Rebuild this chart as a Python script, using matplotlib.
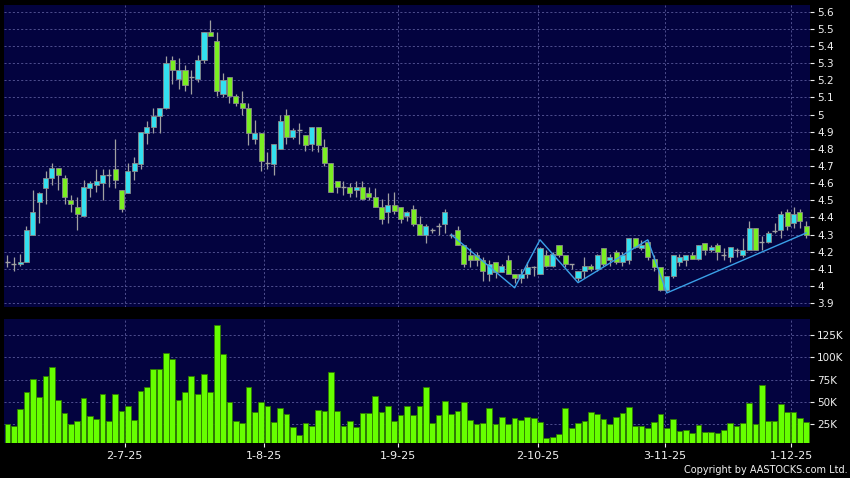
import numpy as np
import matplotlib
matplotlib.use("Agg")
import matplotlib.pyplot as plt

# ========================================================================
# part one, data (one candle per trading day)

opens = [4.14, 4.13, 4.13, 4.14, 4.30, 4.49, 4.57, 4.63, 4.69, 4.63,
	4.50, 4.46, 4.41, 4.57, 4.59, 4.60, 4.65, 4.68, 4.56, 4.54,
	4.67, 4.71, 4.89, 4.93, 4.99, 5.04, 5.32, 5.21, 5.26, 5.22,
	5.21, 5.32, 5.48, 5.43, 5.12, 5.22, 5.11, 5.07, 5.04, 4.86,
	4.89, 4.72, 4.71, 4.80, 5.00, 4.87, 4.91, 4.88, 4.83, 4.93,
	4.81, 4.72, 4.61, 4.58, 4.58, 4.56, 4.58, 4.54, 4.52, 4.46,
	4.43, 4.47, 4.46, 4.41, 4.45, 4.36, 4.30, 4.33, 4.35, 4.36,
	4.30, 4.33, 4.24, 4.18, 4.18, 4.15, 4.07, 4.14, 4.08, 4.15,
	4.07, 4.05, 4.07, 4.11, 4.07, 4.18, 4.12, 4.24, 4.18, 4.13,
	4.05, 4.09, 4.12, 4.10, 4.22, 4.15, 4.20, 4.14, 4.15, 4.28,
	4.22, 4.26, 4.16, 4.11, 3.98, 4.06, 4.14, 4.15, 4.18, 4.16,
	4.25, 4.21, 4.24, 4.18, 4.17, 4.21, 4.18, 4.21, 4.34, 4.26,
	4.26, 4.32, 4.33, 4.43, 4.37, 4.43, 4.35]
highs = [4.18, 4.17, 4.19, 4.35, 4.56, 4.55, 4.67, 4.72, 4.69, 4.65,
	4.53, 4.52, 4.62, 4.61, 4.68, 4.68, 4.68, 4.86, 4.56, 4.72,
	4.75, 4.90, 4.96, 5.04, 5.04, 5.34, 5.34, 5.33, 5.29, 5.26,
	5.35, 5.48, 5.55, 5.48, 5.24, 5.22, 5.12, 5.14, 5.07, 4.97,
	4.89, 4.78, 4.83, 5.00, 5.03, 4.92, 4.95, 4.88, 4.93, 4.93,
	4.86, 4.72, 4.61, 4.61, 4.60, 4.61, 4.61, 4.58, 4.57, 4.51,
	4.54, 4.55, 4.46, 4.44, 4.47, 4.41, 4.36, 4.34, 4.37, 4.45,
	4.31, 4.35, 4.24, 4.22, 4.20, 4.17, 4.15, 4.14, 4.13, 4.18,
	4.07, 4.10, 4.14, 4.12, 4.23, 4.21, 4.20, 4.24, 4.18, 4.13,
	4.09, 4.17, 4.13, 4.19, 4.22, 4.19, 4.21, 4.20, 4.28, 4.28,
	4.27, 4.27, 4.18, 4.11, 4.06, 4.18, 4.19, 4.18, 4.20, 4.24,
	4.25, 4.24, 4.25, 4.22, 4.23, 4.22, 4.28, 4.38, 4.34, 4.29,
	4.32, 4.37, 4.44, 4.45, 4.46, 4.45, 4.38]
lows = [4.11, 4.09, 4.12, 4.14, 4.30, 4.37, 4.48, 4.59, 4.56, 4.48,
	4.43, 4.33, 4.41, 4.52, 4.55, 4.50, 4.58, 4.57, 4.43, 4.54,
	4.62, 4.68, 4.83, 4.89, 4.89, 5.03, 5.18, 5.15, 5.14, 5.12,
	5.19, 5.30, 5.46, 5.11, 5.10, 5.07, 5.05, 5.00, 4.82, 4.83,
	4.67, 4.68, 4.65, 4.80, 4.83, 4.86, 4.83, 4.79, 4.79, 4.78,
	4.70, 4.55, 4.54, 4.53, 4.52, 4.52, 4.50, 4.50, 4.46, 4.36,
	4.37, 4.42, 4.37, 4.38, 4.35, 4.30, 4.25, 4.31, 4.30, 4.31,
	4.28, 4.24, 4.11, 4.11, 4.12, 4.03, 4.03, 4.05, 4.08, 4.07,
	4.02, 4.02, 4.05, 4.06, 4.07, 4.11, 4.11, 4.17, 4.11, 4.10,
	4.03, 4.05, 4.09, 4.09, 4.12, 4.12, 4.13, 4.12, 4.13, 4.22,
	4.21, 4.15, 4.09, 3.97, 3.97, 4.05, 4.12, 4.12, 4.16, 4.15,
	4.18, 4.20, 4.15, 4.15, 4.14, 4.17, 4.17, 4.21, 4.21, 4.21,
	4.25, 4.31, 4.28, 4.33, 4.34, 4.34, 4.28]
closes = [4.14, 4.13, 4.14, 4.33, 4.43, 4.54, 4.63, 4.69, 4.65, 4.52,
	4.48, 4.42, 4.58, 4.60, 4.61, 4.65, 4.65, 4.62, 4.45, 4.67,
	4.72, 4.90, 4.93, 4.99, 5.04, 5.30, 5.26, 5.26, 5.17, 5.22,
	5.32, 5.48, 5.46, 5.14, 5.20, 5.11, 5.07, 5.04, 4.89, 4.89,
	4.73, 4.72, 4.83, 4.96, 4.87, 4.91, 4.91, 4.82, 4.93, 4.82,
	4.72, 4.55, 4.58, 4.58, 4.54, 4.58, 4.51, 4.52, 4.46, 4.39,
	4.47, 4.44, 4.39, 4.43, 4.36, 4.30, 4.35, 4.33, 4.35, 4.43,
	4.30, 4.24, 4.13, 4.15, 4.15, 4.09, 4.13, 4.08, 4.12, 4.07,
	4.05, 4.07, 4.11, 4.11, 4.22, 4.12, 4.19, 4.18, 4.13, 4.13,
	4.09, 4.12, 4.10, 4.18, 4.13, 4.17, 4.14, 4.18, 4.28, 4.23,
	4.24, 4.17, 4.11, 3.98, 4.06, 4.18, 4.17, 4.18, 4.16, 4.24,
	4.21, 4.23, 4.20, 4.18, 4.23, 4.21, 4.21, 4.34, 4.21, 4.26,
	4.31, 4.32, 4.42, 4.35, 4.42, 4.38, 4.30]

# volume in thousands of shares
volumes = [25.4, 23.1, 41.9, 60.6, 75.6, 55.0, 78.9, 88.7, 52.0, 37.4,
	25.4, 28.4, 54.6, 33.6, 30.2, 59.1, 28.7, 58.7, 39.6, 44.9,
	29.5, 62.1, 66.6, 86.4, 86.8, 104.4, 98.0, 51.6, 61.0, 78.9,
	58.3, 81.5, 60.6, 136.2, 104.0, 49.3, 28.7, 26.5, 66.9, 38.9,
	49.3, 45.2, 27.3, 43.0, 36.2, 22.0, 13.0, 26.1, 22.8, 40.7,
	39.2, 83.1, 39.6, 23.1, 28.4, 21.6, 37.7, 37.0, 56.5, 38.5,
	44.9, 28.7, 34.7, 45.2, 35.1, 44.9, 66.9, 25.7, 34.7, 51.2,
	36.6, 39.6, 49.7, 29.5, 25.0, 26.5, 42.6, 25.0, 33.2, 25.4,
	31.4, 29.5, 33.2, 32.1, 26.9, 9.6, 10.4, 13.4, 43.0, 20.9,
	25.7, 27.9, 38.9, 35.9, 30.2, 25.0, 32.5, 37.0, 43.7, 22.8,
	22.4, 20.5, 26.9, 35.9, 20.1, 30.6, 17.1, 18.3, 14.5, 23.9,
	15.6, 16.0, 14.5, 18.6, 26.5, 23.1, 26.1, 48.2, 25.0, 68.4,
	28.7, 28.7, 47.8, 38.5, 38.5, 31.7, 26.9]

# zigzag trend line drawn over the candles (bar index, price)
zigzag_x = [70, 80, 84, 90, 101, 104, 126]
zigzag_y = [4.30, 3.99, 4.27, 4.02, 4.27, 3.96, 4.31]

# month labels and where they sit (bar index)
date_labels = ['2-7-25', '1-8-25', '1-9-25', '2-10-25', '3-11-25', '1-12-25']
date_pos = [18.5, 40.5, 61.6, 83.7, 103.7, 123.6]

price_ticks = [3.9, 4.0, 4.1, 4.2, 4.3, 4.4, 4.5, 4.6, 4.7, 4.8, 4.9,
	5.0, 5.1, 5.2, 5.3, 5.4, 5.5, 5.6]
vol_ticks = [25, 50, 75, 100, 125]
vol_tick_labels = ['25K', '50K', '75K', '100K', '125K']

# ========================================================================
# part two, plot

bg = '#03033f'
grid_col = '#5a5a9a'
up_col = '#33e0f0'
down_col = '#7aee22'
txt_col = '#f0f0f0'

fig = plt.figure(figsize=(8.5, 4.78), dpi=100, facecolor='black')
ax = fig.add_axes([0.0047, 0.3577, 0.9483, 0.6318], facecolor=bg)
ax2 = fig.add_axes([0.0047, 0.0732, 0.9483, 0.2594], facecolor=bg)

x = np.arange(len(opens))
o = np.array(opens)
c = np.array(closes)

# wicks
ax.vlines(x, lows, highs, color='#a0a0a0', lw=0.9, zorder=2)

# bodies
up = c > o
down = c < o
flat = c == o
ax.bar(x[up], (c - o)[up], bottom=o[up], width=0.8, color=up_col,
	edgecolor='#8a8a8a', lw=0.6, zorder=3)
ax.bar(x[down], (o - c)[down], bottom=c[down], width=0.8, color=down_col,
	edgecolor='#8a8a8a', lw=0.6, zorder=3)
ax.hlines(c[flat], x[flat] - 0.4, x[flat] + 0.4, color='#a0a0a0', lw=1.0, zorder=3)

ax.plot(zigzag_x, zigzag_y, color='#3aa0e8', lw=1.0, zorder=4)

ax.set_xlim(-0.55, 126.6)
ax.set_ylim(3.878, 5.639)
ax.yaxis.tick_right()
ax.set_yticks(price_ticks)
ax.set_yticklabels(['%g' % t for t in price_ticks])
ax.set_xticks(date_pos)
ax.tick_params(axis='x', length=0, labelbottom=False)
ax.tick_params(axis='y', colors=txt_col, labelsize=7.5, length=3, width=0.8, pad=2)
ax.grid(True, color=grid_col, ls=(0, (2.5, 2.5)), lw=0.6)
ax.set_axisbelow(True)
for s in ax.spines.values():
	s.set_visible(False)

# volume
ax2.bar(x, volumes, width=0.9, color='#66ff00', edgecolor='#2f7a00', lw=0.6, zorder=3)
ax2.set_xlim(-0.55, 126.6)
ax2.set_ylim(3.6, 143)
ax2.yaxis.tick_right()
ax2.set_yticks(vol_ticks)
ax2.set_yticklabels(vol_tick_labels)
ax2.set_xticks(date_pos)
ax2.set_xticklabels(date_labels)
ax2.tick_params(axis='y', colors=txt_col, labelsize=7.5, length=3, width=0.8, pad=2)
ax2.tick_params(axis='x', colors=txt_col, labelsize=8, length=3, width=0.8, pad=3)
ax2.grid(True, color=grid_col, ls=(0, (2.5, 2.5)), lw=0.6)
ax2.set_axisbelow(True)
for s in ax2.spines.values():
	s.set_visible(False)

fig.text(0.997, 0.006, 'Copyright by AASTOCKS.com Ltd.', ha='right', va='bottom',
	color=txt_col, fontsize=7)

fig.savefig('out.png', dpi=100, facecolor='black')
